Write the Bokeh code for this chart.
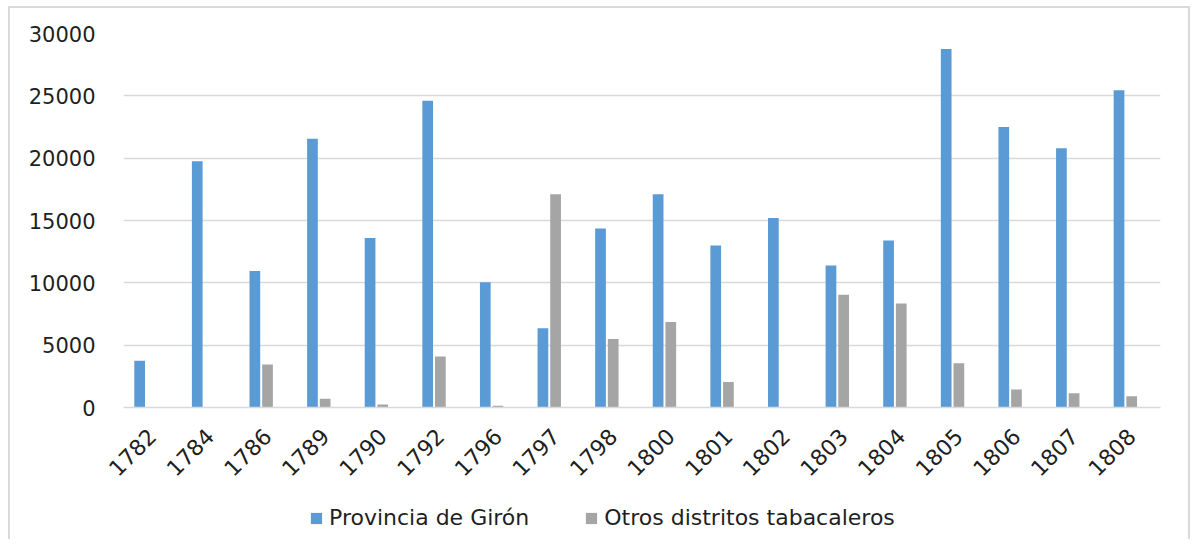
from bokeh.plotting import figure
from bokeh.models import (ColumnDataSource, FactorRange, Range1d, FixedTicker,
                          Legend, LegendItem)
from bokeh.layouts import column
from bokeh.transform import dodge
from bokeh.embed import file_html
from bokeh.resources import INLINE
import math

years = ["1782", "1784", "1786", "1789", "1790", "1792", "1796", "1797", "1798",
         "1800", "1801", "1802", "1803", "1804", "1805", "1806", "1807", "1808"]
giron = [3750, 19750, 10950, 21550, 13600, 24600, 10050, 6350, 14350,
         17100, 13000, 15200, 11400, 13400, 28750, 22500, 20800, 25450]
otros = [0, 0, 3450, 700, 250, 4100, 150, 17100, 5500,
         6850, 2050, 0, 9050, 8350, 3550, 1450, 1150, 900]
y_ticks = [0, 5000, 10000, 15000, 20000, 25000, 30000]
series_names = ["Provincia de Girón", "Otros distritos tabacaleros"]

BLUE = "#5b9bd5"
GRAY = "#a5a5a5"
GRID = "#d9d9d9"
TEXT = "#1f1f1f"
FONT = "DejaVu Sans"

source = ColumnDataSource(data=dict(year=years, giron=giron, otros=otros))

p = figure(x_range=FactorRange(*years), y_range=Range1d(0, 30000),
           width=1178, height=487, output_backend="svg", toolbar_location=None,
           min_border_left=113, min_border_right=28, min_border_top=25,
           min_border_bottom=88)
p.outline_line_color = None
p.background_fill_color = "white"
p.border_fill_color = "white"

r1 = p.vbar(x=dodge("year", -0.22, range=p.x_range), top="giron", width=0.186,
            source=source, color=BLUE, line_color=None)
r2 = p.vbar(x=dodge("year", 0.0, range=p.x_range), top="otros", width=0.186,
            source=source, color=GRAY, line_color=None)

p.xgrid.grid_line_color = None
p.ygrid.grid_line_color = GRID
p.ygrid.grid_line_width = 1.5
p.yaxis.ticker = FixedTicker(ticks=y_ticks)
p.yaxis.axis_line_color = None
p.yaxis.major_tick_line_color = None
p.yaxis.minor_tick_line_color = None
p.yaxis.major_label_standoff = 22
p.yaxis.major_label_text_font = FONT
p.yaxis.major_label_text_font_size = "21px"
p.yaxis.major_label_text_color = TEXT

p.xaxis.axis_line_color = GRID
p.xaxis.axis_line_width = 1.5
p.xaxis.major_tick_line_color = None
p.xaxis.minor_tick_line_color = None
p.xaxis.major_label_orientation = math.pi / 4
p.xaxis.major_label_standoff = 19
p.xaxis.major_label_text_font = FONT
p.xaxis.major_label_text_font_size = "22px"
p.xaxis.major_label_text_color = TEXT

# legend strip underneath the chart (zero-height swatch bars only feed the legend)
pl = figure(width=1178, height=44, x_range=Range1d(0, 1), y_range=Range1d(0, 1),
            output_backend="svg", toolbar_location=None,
            x_axis_type=None, y_axis_type=None,
            min_border_left=0, min_border_right=0, min_border_top=0,
            min_border_bottom=0)
pl.outline_line_color = None
pl.xgrid.grid_line_color = None
pl.ygrid.grid_line_color = None
pl.background_fill_color = "white"
pl.border_fill_color = "white"
l1 = pl.vbar(x=[-1], top=[0], width=0.01, color=BLUE, line_color=None)
l2 = pl.vbar(x=[-1], top=[0], width=0.01, color=GRAY, line_color=None)

legend = Legend(items=[LegendItem(label=series_names[0], renderers=[l1]),
                       LegendItem(label=series_names[1], renderers=[l2])],
                orientation="horizontal", location=(186, 9),
                glyph_width=14, glyph_height=14, label_standoff=6, spacing=55,
                padding=0, margin=0, border_line_color=None,
                background_fill_alpha=0,
                label_text_font=FONT, label_text_font_size="22px",
                label_text_color=TEXT)
pl.add_layout(legend, "center")

layout = column(p, pl, spacing=0)
layout.styles = {"margin-left": "8px", "margin-top": "6px",
                 "border-left": f"2px solid {GRID}", "border-right": f"2px solid {GRID}",
                 "border-top": f"2px solid {GRID}"}

open("out.html", "w").write(file_html(layout, INLINE))
